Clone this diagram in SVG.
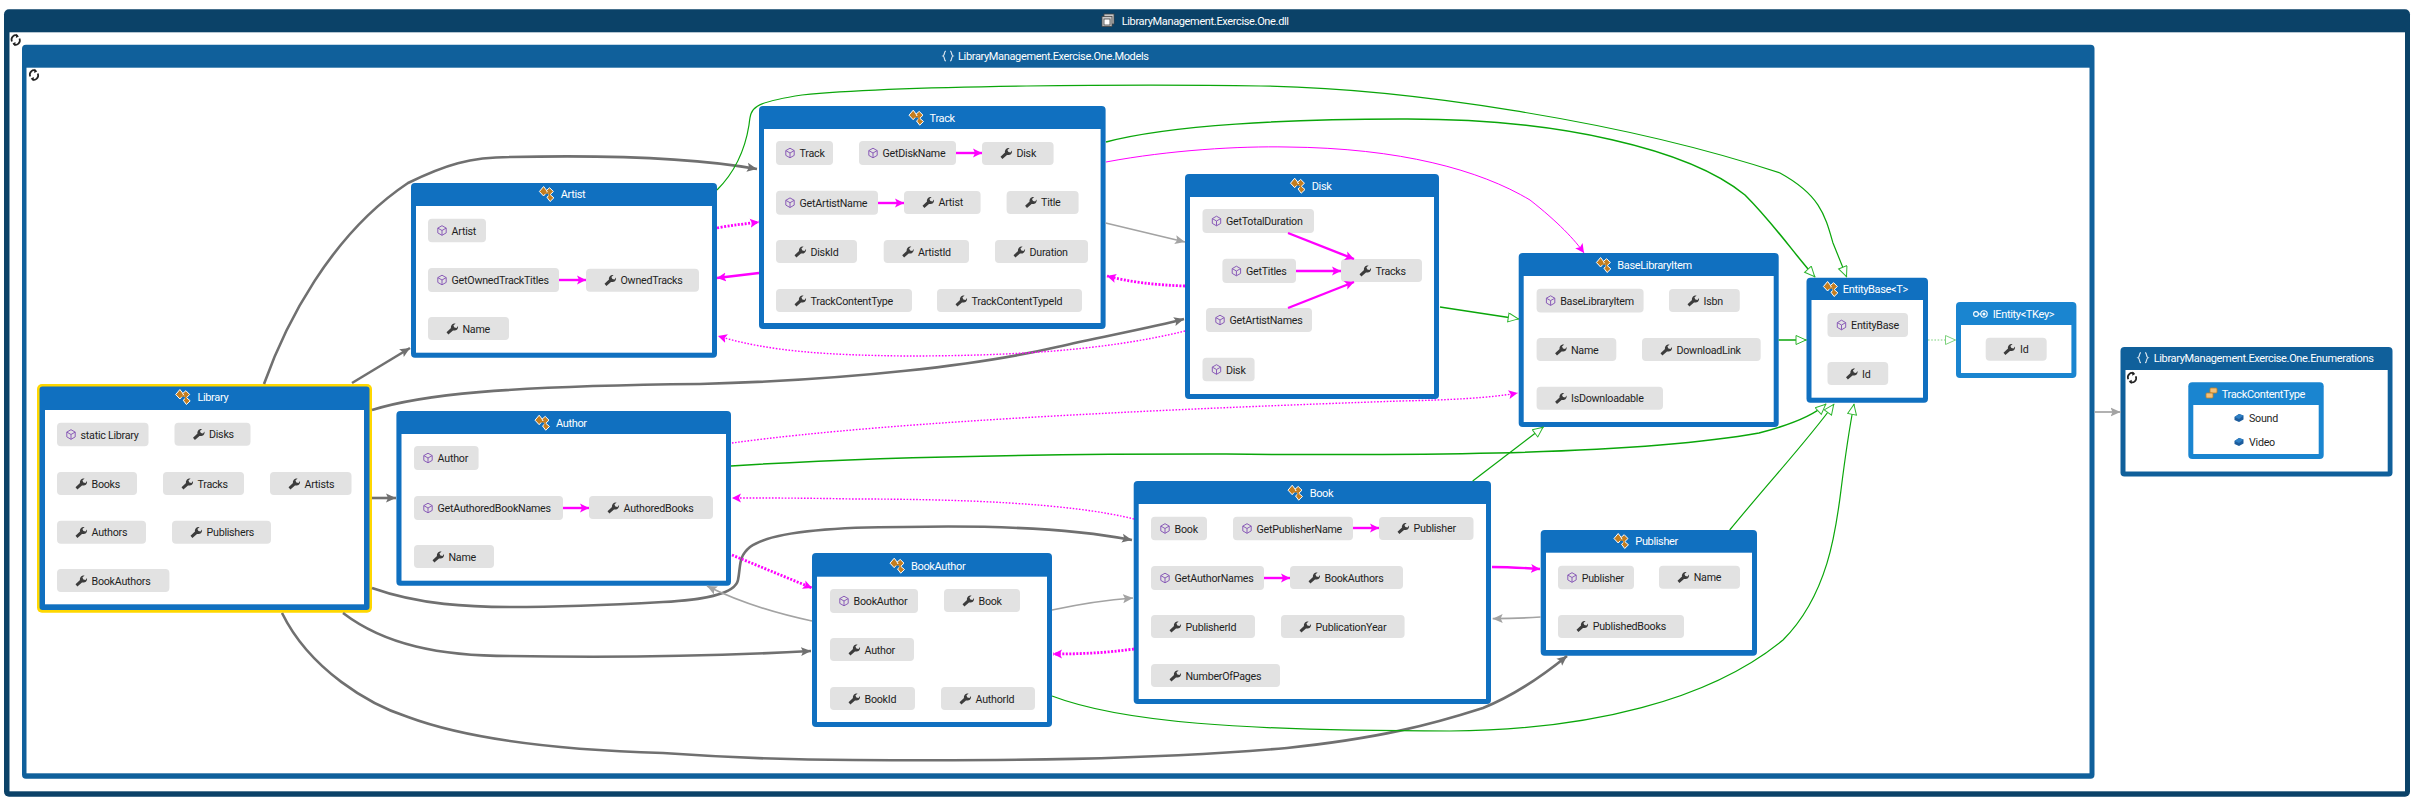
<svg xmlns="http://www.w3.org/2000/svg" xmlns:xlink="http://www.w3.org/1999/xlink" width="2414" height="801" viewBox="0 0 2414 801">
<style>
text{font-family:Roboto,"Liberation Sans",sans-serif;font-size:10.7px;letter-spacing:-.25px;fill:#1e1e1e}
.t{fill:#fff;font-size:11px;letter-spacing:-.35px}
.c{fill:#e2e2e2}
.in{fill:#fff}
.n{fill:#1070c0}
.l{fill:#1a85d0}
.d{fill:#0b4268}
.m{fill:#10609b}
path.e{fill:none}
.g1{stroke:#707070;stroke-width:2.6;marker-end:url(#ag)}
.g2{stroke:#a3a3a3;stroke-width:1.7;marker-end:url(#al)}
.p1{stroke:#ff00ff;stroke-width:2.4;marker-end:url(#am)}
.p2{stroke:#ff00ff;stroke-width:1;marker-end:url(#am)}
.pd1{stroke:#ff00ff;stroke-width:2.8;stroke-dasharray:2 1.5;marker-end:url(#am)}
.pd2{stroke:#ff00ff;stroke-width:1.4;stroke-dasharray:1.6 1.6;marker-end:url(#am)}
.v1{stroke:#0aa60a;stroke-width:1.2;marker-end:url(#tr)}
.v2{stroke:#0aa60a;stroke-width:1.5;marker-end:url(#tr)}
</style>
<defs>
<marker id="ag" markerUnits="userSpaceOnUse" markerWidth="12" markerHeight="12" refX="10" refY="5" orient="auto"><path d="M0,.5L10,5L0,9.5L2,5Z" fill="#707070"/></marker>
<marker id="al" markerUnits="userSpaceOnUse" markerWidth="12" markerHeight="12" refX="10" refY="5" orient="auto"><path d="M0,.5L10,5L0,9.5L2,5Z" fill="#a3a3a3"/></marker>
<marker id="am" markerUnits="userSpaceOnUse" markerWidth="12" markerHeight="12" refX="9" refY="5" orient="auto"><path d="M0,.5L9,5L0,9.5L2,5Z" fill="#ff00ff"/></marker>
<marker id="tr" markerUnits="userSpaceOnUse" markerWidth="14" markerHeight="12" refX="11.5" refY="5" orient="auto"><path d="M1,.5L11,5L1,9.5Z" fill="#fff" stroke="#2cb52c" stroke-width="1"/></marker>
<marker id="tl" markerUnits="userSpaceOnUse" markerWidth="14" markerHeight="12" refX="11.5" refY="5" orient="auto"><path d="M1,.5L11,5L1,9.5Z" fill="#fff" stroke="#7fd27f" stroke-width="1"/></marker>
<g id="w"><path d="M-5.5,3.8L-1,-.5C-1.5,-3 .5,-5.6 3.6,-5L1.4,-3L2.4,-1L4.5,-.4L6,-2.6C6.5,.5 4,2.6 1,2L-3.6,6Z" fill="#3c3c3c"/></g>
<g id="me"><path d="M0,-4.8L4.2,-2.4V2.4L0,4.8L-4.2,2.4V-2.4ZM-4.2,-2.4L0,0L4.2,-2.4M0,0V4.8" fill="none" stroke="#8a5cb8" stroke-width="1"/></g>
<g id="cl" stroke="#fff" stroke-width="1" fill="#c47d1e"><path d="M-8,-2.5L-3.8,-7.5L0,-2.5L-3.8,2Z"/><path d="M-1,-3.5L2.2,-6.3L6,-2.5L2.2,1.2Z"/><path d="M-.5,3.2L2.7,0.5L6.5,3.8L2.7,7.5Z"/><path d="M-3,-1H2V3" fill="none" stroke="#c47d1e" stroke-width="1.4"/></g>
<g id="rf" fill="none" stroke="#222" stroke-width="1.7"><path d="M-3.8,1.5A4,4.4 0 0 1 2,-4"/><path d="M3.8,-1.5A4,4.4 0 0 1 -2,4"/><path d="M.5,-6.3L3.2,-3.6L.2,-2" fill="#222" stroke="none"/><path d="M-.5,6.3L-3.2,3.6L-.2,2" fill="#222" stroke="none"/></g>
<g id="ns" fill="none" stroke="#d8e4ee" stroke-width="1.2"><path d="M-2,-5C-4.5,-5 -2.5,-1 -5,0C-2.5,1 -4.5,5 -2,5"/><path d="M2,-5C4.5,-5 2.5,-1 5,0C2.5,1 4.5,5 2,5"/></g>
<g id="fd"><path d="M-4.5,-1L0,-4L4.5,-2.5V1.5L0,4L-4.5,2Z" fill="#1c5c9c"/><path d="M-4.5,-1L0,1L4.5,-2.5L0,-4Z" fill="#2f7fc4"/></g>
</defs>

<g id="assembly">
<rect class="d" x="4" y="9.3" width="2406" height="787.4" rx="5"/>
<rect class="in" x="9.5" y="32.3" width="2395.5" height="759"/>
<g fill="#c9c9c9" stroke="#444" stroke-width=".8"><rect x="1104" y="14" width="10" height="10"/><rect x="1102" y="16.5" width="10" height="10"/><rect x="1104" y="19" width="6" height="6" fill="#fff"/></g>
<text class="t" x="1121.7" y="25">LibraryManagement.Exercise.One.dll</text>
<use href="#rf" x="15.7" y="40"/>
</g>

<g id="ns-models">
<rect class="m" x="22" y="44.7" width="2072.5" height="734" rx="4"/>
<rect class="in" x="26.5" y="67.7" width="2063" height="705.6"/>
<use href="#ns" x="948" y="56"/>
<text class="t" x="958" y="60">LibraryManagement.Exercise.One.Models</text>
<use href="#rf" x="34" y="75"/>
</g>

<g id="ns-enumerations">
<rect class="m" x="2120.5" y="347" width="272" height="129.5" rx="4"/>
<rect class="in" x="2125.5" y="370" width="262.2" height="101.5"/>
<use href="#ns" x="2143" y="357.7"/>
<text class="t" x="2153.7" y="362">LibraryManagement.Exercise.One.Enumerations</text>
<use href="#rf" x="2132" y="377.7"/>
</g>

<g id="node-artist">
<rect class="n" x="411" y="183" width="306" height="174.7" rx="4"/><rect class="in" x="416" y="206" width="296" height="146.7"/>
<use href="#cl" x="547.4" y="194"/><text class="t" x="560.7" y="198">Artist</text>
<rect class="c" x="428" y="218.7" width="58" height="23.6" rx="4"/><use href="#me" x="442" y="230.5"/><text x="451.6" y="234.5">Artist</text>
<rect class="c" x="428" y="268" width="131" height="24" rx="4"/><use href="#me" x="442" y="280"/><text x="451.6" y="284">GetOwnedTrackTitles</text>
<rect class="c" x="586" y="268.7" width="113" height="23" rx="4"/><use href="#w" x="610" y="280"/><text x="620.5" y="284">OwnedTracks</text>
<rect class="c" x="428" y="317" width="81" height="23" rx="4"/><use href="#w" x="452" y="328.5"/><text x="462.5" y="332.5">Name</text>
</g>

<g id="node-library">
<rect x="37" y="384" width="335" height="228.7" rx="5" fill="#ffd700"/>
<rect class="n" x="39.5" y="386.5" width="330" height="223.5" rx="3"/><rect class="in" x="45" y="410" width="319" height="194.3"/>
<use href="#cl" x="183.7" y="397"/><text class="t" x="197.4" y="401">Library</text>
<rect class="c" x="57" y="422.7" width="91.5" height="23.6" rx="4"/><use href="#me" x="71" y="434.5"/><text x="80.6" y="438.5">static Library</text>
<rect class="c" x="174.5" y="422.7" width="76" height="23" rx="4"/><use href="#w" x="198.5" y="434"/><text x="209" y="438">Disks</text>
<rect class="c" x="57" y="472" width="80" height="23" rx="4"/><use href="#w" x="81" y="483.5"/><text x="91.5" y="487.5">Books</text>
<rect class="c" x="163" y="472" width="81" height="23" rx="4"/><use href="#w" x="187" y="483.5"/><text x="197.5" y="487.5">Tracks</text>
<rect class="c" x="270" y="472" width="81.5" height="23" rx="4"/><use href="#w" x="294" y="483.5"/><text x="304.5" y="487.5">Artists</text>
<rect class="c" x="57" y="520.7" width="89" height="23" rx="4"/><use href="#w" x="81" y="532"/><text x="91.5" y="536">Authors</text>
<rect class="c" x="172" y="520.7" width="99" height="23" rx="4"/><use href="#w" x="196" y="532"/><text x="206.5" y="536">Publishers</text>
<rect class="c" x="57" y="569" width="112.4" height="23" rx="4"/><use href="#w" x="81" y="580.5"/><text x="91.5" y="584.5">BookAuthors</text>
</g>

<g id="node-author">
<rect class="n" x="396.4" y="411" width="334.6" height="174.7" rx="4"/><rect class="in" x="401.5" y="434" width="324.5" height="146.7"/>
<use href="#cl" x="543" y="422.7"/><text class="t" x="556" y="426.7">Author</text>
<rect class="c" x="414" y="446" width="64.6" height="24" rx="4"/><use href="#me" x="428" y="458"/><text x="437.6" y="462">Author</text>
<rect class="c" x="414" y="496" width="149" height="24" rx="4"/><use href="#me" x="428" y="508"/><text x="437.6" y="512">GetAuthoredBookNames</text>
<rect class="c" x="589" y="496" width="124" height="23" rx="4"/><use href="#w" x="613" y="507.5"/><text x="623.5" y="511.5">AuthoredBooks</text>
<rect class="c" x="414" y="545" width="80" height="23" rx="4"/><use href="#w" x="438" y="556.5"/><text x="448.5" y="560.5">Name</text>
</g>

<g id="node-track">
<rect class="n" x="759" y="106" width="346.6" height="223" rx="4"/><rect class="in" x="764" y="129" width="336.6" height="194"/>
<use href="#cl" x="917" y="117.7"/><text class="t" x="929.6" y="121.7">Track</text>
<rect class="c" x="776" y="141" width="57" height="24" rx="4"/><use href="#me" x="790" y="153"/><text x="799.6" y="157">Track</text>
<rect class="c" x="859" y="141" width="97" height="24" rx="4"/><use href="#me" x="873" y="153"/><text x="882.6" y="157">GetDiskName</text>
<rect class="c" x="982" y="142" width="71.6" height="23" rx="4"/><use href="#w" x="1006" y="153"/><text x="1016.5" y="157">Disk</text>
<rect class="c" x="776" y="190.7" width="102" height="24" rx="4"/><use href="#me" x="790" y="202.7"/><text x="799.6" y="206.7">GetArtistName</text>
<rect class="c" x="904" y="191" width="76.6" height="23" rx="4"/><use href="#w" x="928" y="202"/><text x="938.5" y="206">Artist</text>
<rect class="c" x="1006.6" y="191" width="72" height="23" rx="4"/><use href="#w" x="1030.6" y="202"/><text x="1041" y="206">Title</text>
<rect class="c" x="776" y="240" width="81" height="23" rx="4"/><use href="#w" x="800" y="251.5"/><text x="810.5" y="255.5">DiskId</text>
<rect class="c" x="883.7" y="240" width="85.3" height="23" rx="4"/><use href="#w" x="907.7" y="251.5"/><text x="918" y="255.5">ArtistId</text>
<rect class="c" x="995" y="240" width="93" height="23" rx="4"/><use href="#w" x="1019" y="251.5"/><text x="1029.5" y="255.5">Duration</text>
<rect class="c" x="776" y="289" width="136" height="23" rx="4"/><use href="#w" x="800" y="300.5"/><text x="810.5" y="304.5">TrackContentType</text>
<rect class="c" x="937" y="289" width="145" height="23" rx="4"/><use href="#w" x="961" y="300.5"/><text x="971.5" y="304.5">TrackContentTypeId</text>
</g>

<g id="node-disk">
<rect class="n" x="1185" y="174" width="254" height="225" rx="4"/><rect class="in" x="1190" y="197" width="244" height="197"/>
<use href="#cl" x="1298.5" y="185.7"/><text class="t" x="1311.7" y="189.7">Disk</text>
<rect class="c" x="1202.5" y="209" width="111.5" height="24" rx="4"/><use href="#me" x="1216.5" y="221"/><text x="1226" y="225">GetTotalDuration</text>
<rect class="c" x="1222.4" y="258.7" width="73.6" height="24.3" rx="4"/><use href="#me" x="1236.4" y="271"/><text x="1246" y="275">GetTitles</text>
<rect class="c" x="1341" y="259" width="81" height="23" rx="4"/><use href="#w" x="1365" y="270.5"/><text x="1375.5" y="274.5">Tracks</text>
<rect class="c" x="1206" y="308" width="106" height="24" rx="4"/><use href="#me" x="1220" y="320"/><text x="1229.6" y="324">GetArtistNames</text>
<rect class="c" x="1202.5" y="357.7" width="52.1" height="23.6" rx="4"/><use href="#me" x="1216.5" y="369.5"/><text x="1226" y="373.5">Disk</text>
</g>

<g id="node-baselibraryitem">
<rect class="n" x="1518.7" y="253" width="260" height="174" rx="4"/><rect class="in" x="1523.7" y="276" width="250" height="146"/>
<use href="#cl" x="1604.4" y="265"/><text class="t" x="1617.3" y="269">BaseLibraryItem</text>
<rect class="c" x="1536.6" y="288.7" width="107" height="23.9" rx="4"/><use href="#me" x="1550.6" y="300.6"/><text x="1560.2" y="304.6">BaseLibraryItem</text>
<rect class="c" x="1669" y="289" width="70.8" height="23" rx="4"/><use href="#w" x="1693" y="300.5"/><text x="1703.5" y="304.5">Isbn</text>
<rect class="c" x="1536.6" y="338" width="79.7" height="23" rx="4"/><use href="#w" x="1560.6" y="349.5"/><text x="1571" y="353.5">Name</text>
<rect class="c" x="1642" y="338" width="118.7" height="23" rx="4"/><use href="#w" x="1666" y="349.5"/><text x="1676.5" y="353.5">DownloadLink</text>
<rect class="c" x="1536.6" y="386.7" width="126.4" height="23" rx="4"/><use href="#w" x="1560.6" y="398"/><text x="1571" y="402">IsDownloadable</text>
</g>

<g id="node-entitybase">
<rect class="n" x="1806.5" y="277.7" width="121.5" height="125" rx="4"/><rect class="in" x="1811.5" y="300" width="111.5" height="97.7"/>
<use href="#cl" x="1831.4" y="289"/><text class="t" x="1842.8" y="293">EntityBase&lt;T&gt;</text>
<rect class="c" x="1827.5" y="313" width="80.5" height="24" rx="4"/><use href="#me" x="1841.5" y="325"/><text x="1851.1" y="329">EntityBase</text>
<rect class="c" x="1827.5" y="362" width="60.7" height="23" rx="4"/><use href="#w" x="1851.5" y="373.5"/><text x="1862" y="377.5">Id</text>
</g>

<g id="node-ientity">
<rect class="l" x="1956" y="302" width="120.4" height="76" rx="4"/><rect class="in" x="1961" y="325" width="110.4" height="48"/>
<g fill="none" stroke="#fff" stroke-width="1.1"><circle cx="1976" cy="314" r="2.4"/><path d="M1978.4,314H1981"/><circle cx="1984" cy="314" r="3.2"/><circle cx="1984" cy="314" r="1" fill="#fff"/></g>
<text class="t" x="1992.7" y="318">IEntity&lt;TKey&gt;</text>
<rect class="c" x="1985.7" y="337.7" width="61" height="23" rx="4"/><use href="#w" x="2009" y="349"/><text x="2020" y="353">Id</text>
</g>

<g id="node-book">
<rect class="n" x="1133.7" y="481" width="357.3" height="223" rx="4"/><rect class="in" x="1138.7" y="504" width="347.3" height="195"/>
<use href="#cl" x="1296" y="492.7"/><text class="t" x="1309.7" y="496.7">Book</text>
<rect class="c" x="1151" y="516.7" width="56" height="23.6" rx="4"/><use href="#me" x="1165" y="528.5"/><text x="1174.6" y="532.5">Book</text>
<rect class="c" x="1233" y="516.7" width="120" height="23.6" rx="4"/><use href="#me" x="1247" y="528.5"/><text x="1256.6" y="532.5">GetPublisherName</text>
<rect class="c" x="1379" y="517" width="94.5" height="23" rx="4"/><use href="#w" x="1403" y="528"/><text x="1413.5" y="532">Publisher</text>
<rect class="c" x="1151" y="566" width="113" height="24" rx="4"/><use href="#me" x="1165" y="578"/><text x="1174.6" y="582">GetAuthorNames</text>
<rect class="c" x="1290" y="566" width="113" height="23" rx="4"/><use href="#w" x="1314" y="577.5"/><text x="1324.5" y="581.5">BookAuthors</text>
<rect class="c" x="1151" y="615" width="104" height="23" rx="4"/><use href="#w" x="1175" y="626.5"/><text x="1185.5" y="630.5">PublisherId</text>
<rect class="c" x="1281" y="615" width="123.6" height="23" rx="4"/><use href="#w" x="1305" y="626.5"/><text x="1315.5" y="630.5">PublicationYear</text>
<rect class="c" x="1151" y="664" width="129" height="23" rx="4"/><use href="#w" x="1175" y="675.5"/><text x="1185.5" y="679.5">NumberOfPages</text>
</g>

<g id="node-bookauthor">
<rect class="n" x="812" y="553" width="240" height="174" rx="4"/><rect class="in" x="817" y="576.7" width="230" height="145.3"/>
<use href="#cl" x="898" y="565.7"/><text class="t" x="911" y="569.7">BookAuthor</text>
<rect class="c" x="830" y="589" width="88" height="24" rx="4"/><use href="#me" x="844" y="601"/><text x="853.6" y="605">BookAuthor</text>
<rect class="c" x="944" y="589" width="76" height="23" rx="4"/><use href="#w" x="968" y="600.5"/><text x="978.5" y="604.5">Book</text>
<rect class="c" x="830" y="638" width="84" height="23" rx="4"/><use href="#w" x="854" y="649.5"/><text x="864.5" y="653.5">Author</text>
<rect class="c" x="830" y="687" width="85" height="23" rx="4"/><use href="#w" x="854" y="698.5"/><text x="864.5" y="702.5">BookId</text>
<rect class="c" x="941" y="687" width="94" height="23" rx="4"/><use href="#w" x="965" y="698.5"/><text x="975.5" y="702.5">AuthorId</text>
</g>

<g id="node-publisher">
<rect class="n" x="1540.7" y="530" width="216.3" height="125.7" rx="4"/><rect class="in" x="1546" y="552.7" width="206" height="97.3"/>
<use href="#cl" x="1622" y="541"/><text class="t" x="1635.3" y="545">Publisher</text>
<rect class="c" x="1558" y="565.7" width="76" height="23.5" rx="4"/><use href="#me" x="1572" y="577.5"/><text x="1581.7" y="581.5">Publisher</text>
<rect class="c" x="1659" y="565.7" width="81" height="23" rx="4"/><use href="#w" x="1683" y="577"/><text x="1693.7" y="581">Name</text>
<rect class="c" x="1558" y="615" width="126" height="23" rx="4"/><use href="#w" x="1582" y="626"/><text x="1592.7" y="630">PublishedBooks</text>
</g>

<g id="node-trackcontenttype">
<rect class="l" x="2188.3" y="382.3" width="135.4" height="76.7" rx="4"/><rect class="in" x="2193.3" y="405" width="125.4" height="49"/>
<g fill="#f2c07a" stroke="#c47d1e" stroke-width=".8"><rect x="2210" y="388" width="7" height="5" rx="1"/><rect x="2206" y="393" width="7" height="5" rx="1"/></g>
<text class="t" x="2221.7" y="398">TrackContentType</text>
<use href="#fd" x="2239" y="418"/><text x="2249" y="422">Sound</text>
<use href="#fd" x="2239" y="442"/><text x="2249" y="446">Video</text>
</g>

<g id="connectors">
<path class="e g1" d="M264,384C285,325 330,235 408,183C445,165 470,157 510,157C600,155 690,157 757,169"/>
<path class="e g1" d="M352,383L410,348"/>
<path class="e g1" d="M372,410C420,395 500,386 700,384C850,380 980,365 1057,347C1100,337 1150,328 1184,319"/>
<path class="e g1" d="M372,498L396,498"/>
<path class="e g1" d="M372,588C420,605 470,607 510,607C560,607 610,605 663,602C700,600 735,595 738,580C741,565 738,557 750,547C770,532 830,527 904,527C1000,525 1080,530 1132,540"/>
<path class="e g1" d="M343,613C385,645 440,656 510,656C620,658 720,656 811,651"/>
<path class="e g1" d="M282,613C310,670 370,705 408,717C470,740 560,750 663,753C720,757 780,760 853,760C1000,761 1150,760 1287,748C1380,738 1430,725 1483,708C1515,695 1540,678 1567,656"/>
<path class="e g2" d="M1105.6,223C1135,230 1160,236 1185,242"/>
<path class="e g2" d="M812,621C770,612 735,600 707,586"/>
<path class="e g2" d="M1052,610C1080,604 1105,600 1133,598"/>
<path class="e g2" d="M1540.7,617C1525,618 1510,618.5 1492.7,618.7"/>
<path class="e g2" d="M2094.5,412L2120.5,412"/>
<path class="e pd1" d="M717,228C732,225 745,224 759,222"/>
<path class="e p1" d="M759,273L717,278"/>
<path class="e pd1" d="M1185,286C1155,285 1130,282 1107,276"/>
<path class="e pd2" d="M1185,331C1100,352 1000,356 904,356C830,355 770,352 718,336"/>
<path class="e p2" d="M1106,162C1170,150 1240,146 1287,147C1400,148 1480,170 1530,200C1558,222 1575,240 1584,253"/>
<path class="e pd2" d="M732,443C900,420 1200,408 1400,401C1450,400 1490,398 1517.6,393"/>
<path class="e pd2" d="M1134,519C1070,503 960,499 853,499C810,498 770,498 732,498"/>
<path class="e pd1" d="M732,555L812,588"/>
<path class="e pd1" d="M1134,649C1105,653 1080,654 1053,654"/>
<path class="e p1" d="M1492,567C1510,567 1525,568 1540,569"/>
<path class="e p1" d="M559,280H586"/>
<path class="e p1" d="M563,508H589"/>
<path class="e p1" d="M956,153H982"/>
<path class="e p1" d="M878,203H904"/>
<path class="e p1" d="M1288,233L1354,259"/>
<path class="e p1" d="M1296,271H1341"/>
<path class="e p1" d="M1288,308L1354,282"/>
<path class="e p1" d="M1353,528H1379"/>
<path class="e p1" d="M1264,578H1290"/>
<path class="e v1" d="M717,190C735,172 745,150 749,125C751,108 750,103 802,95C900,85 1150,84 1261,86C1400,88 1620,120 1780,173C1820,195 1825,215 1833,243L1846.7,277"/>
<path class="e v2" d="M1106,142C1170,125 1290,119 1400,119C1560,118 1690,150 1745,195C1775,225 1795,255 1815,277"/>
<path class="e v2" d="M1440,307L1518.7,319"/>
<path class="e v2" d="M1778.7,340H1806.5"/>
<path class="e" stroke="#7fd27f" stroke-width="1.2" stroke-dasharray="1.6 1.6" marker-end="url(#tl)" d="M1928,340H1956"/>
<path class="e v2" d="M731,466C850,458 1000,454 1210,454C1350,455 1620,458 1759,433C1790,425 1814,415 1826,404"/>
<path class="e v1" d="M1472.7,481L1543.4,427"/>
<path class="e v1" d="M1729.7,530C1775,475 1808,440 1834,404"/>
<path class="e v1" d="M1052,696C1120,722 1240,731 1450,731C1590,730 1710,700 1783,640C1828,595 1836,530 1841,490C1846,450 1850,425 1854,404"/>
</g>
</svg>
